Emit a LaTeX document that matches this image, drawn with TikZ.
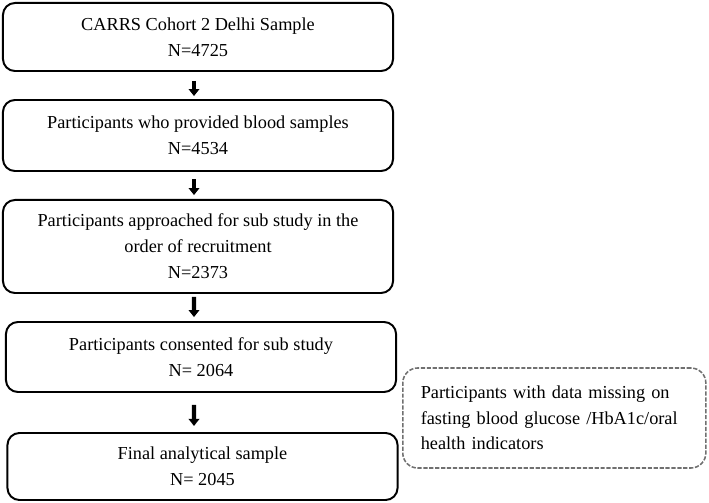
\documentclass[tikz,border=0pt]{standalone}
\usepackage{fontspec}
\setmainfont{Liberation Serif}
\usepackage{tikz}
\usetikzlibrary{arrows.meta, positioning}
\definecolor{dashc}{HTML}{707070}

\tikzset{
  stage/.style={draw, rounded corners=0.3cm, line width=1.4pt,
                align=center, inner sep=0pt, minimum width=9.75cm,
                font=\fontsize{13}{18.5}\selectfont},
  flow/.style={-{Triangle[length=5pt, width=7.5pt]}, line width=2.9pt,
               shorten <=#1, shorten >=2.8pt},
  flow/.default=5pt
}

\begin{document}
\begin{tikzpicture}[x=0.025cm, y=-0.025cm]
        \useasboundingbox (0,0) rectangle (709,503);
        % main column
        \node[stage, minimum height=1.7cm] (cohort) at (198,37)
              {CARRS Cohort 2 Delhi Sample\\N=4725};
        \node[stage, minimum height=1.775cm] (blood) at (198,135.5)
              {Participants who provided blood samples\\N=4534};
        \node[stage, minimum height=2.325cm] (approached) at (198,246.5)
              {Participants approached for sub study in the\\order of recruitment\\N=2373};
        \node[stage, minimum height=1.75cm] (consented) at (201,357)
              {Participants consented for sub study\\N= 2064};
        \node[stage, minimum height=1.675cm] (final) at (202.5,466.5)
              {Final analytical sample\\N= 2045};
        % excluded
        \node[draw=dashc, dashed, dash pattern=on 3pt off 1.2pt,
              line width=1.1pt, rounded corners=0.375cm,
              minimum height=2.5cm, text width=6.675cm, inner xsep=0.45cm,
              align=left, anchor=west, font=\fontsize{13}{18}\selectfont]
              (missing) at (402,418)
              {Participants with data missing on\\fasting blood glucose /HbA1c/oral\\health indicators};
        % arrows
        \draw[flow=6.4pt, shorten >=2.1pt] ([xshift=-0.1cm]cohort.south) -- ([xshift=-0.1cm]blood.north);
        \draw[flow] ([xshift=-0.1cm]blood.south) -- ([xshift=-0.1cm]approached.north);
        \draw[flow=2.1pt] ([xshift=-0.1cm]approached.south) -- ([xshift=-0.175cm]consented.north);
        \draw[flow=8.5pt, shorten >=4.3pt] ([xshift=-0.175cm]consented.south) -- ([xshift=-0.2125cm]final.north);
\end{tikzpicture}
\end{document}
